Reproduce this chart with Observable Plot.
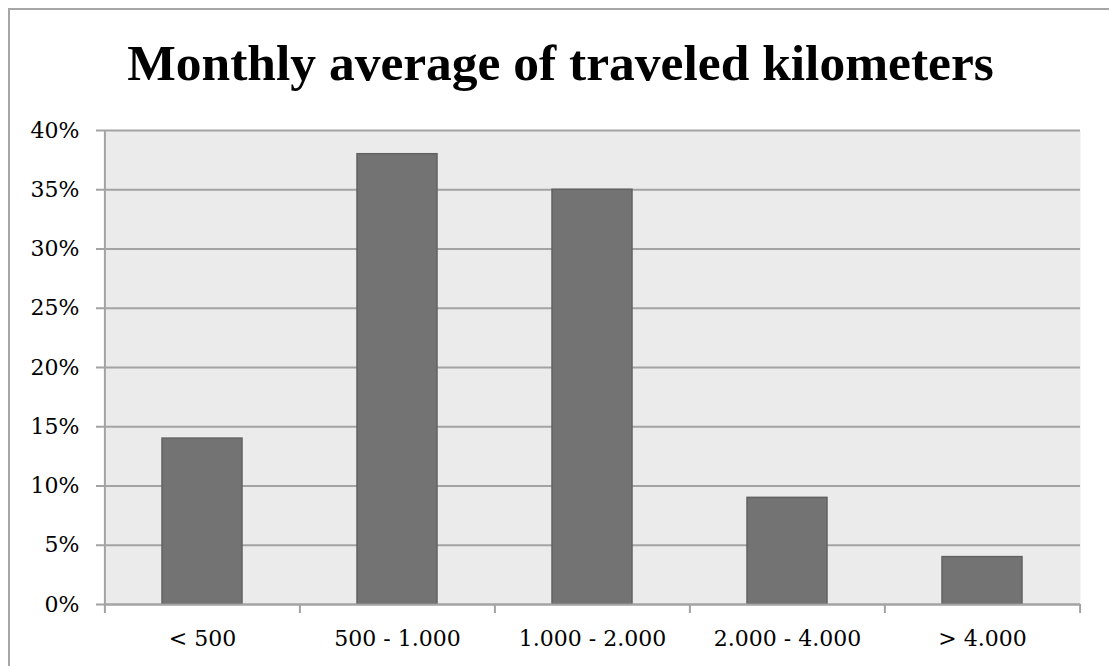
<!DOCTYPE html>
<html>
<head>
<meta charset="utf-8">
<script src="https://cdn.jsdelivr.net/npm/d3@7"></script>
<script src="https://cdn.jsdelivr.net/npm/@observablehq/plot@0.6"></script>
<style>
  html, body { margin: 0; padding: 0; background: #fff; }
  #page { position: relative; width: 1109px; height: 666px; overflow: hidden; }
  #frame {
    position: absolute; left: 8px; top: 8px; width: 1200px; height: 800px;
    border-left: 2px solid #a6a6a6; border-top: 2px solid #a6a6a6;
    pointer-events: none; z-index: 2;
  }
  #title {
    box-sizing: border-box; height: 100px; padding-top: 38px; padding-left: 12px;
    line-height: 50px; text-align: center;
    font-family: "Liberation Serif", serif; font-weight: bold; font-size: 51.5px; color: #000;
  }
  #chart svg { display: block; background: transparent; }
</style>
</head>
<body>
<div id="page">
  <div id="frame"></div>
  <div id="title">Monthly average of traveled kilometers</div>
  <div id="chart"></div>
</div>
<script>
// Share of drivers by monthly average distance (km), in percent
const ranges = ["< 500", "500 - 1.000", "1.000 - 2.000", "2.000 - 4.000", "> 4.000"];
const shares = [14, 38, 35, 9, 4];
const yTicks = [0, 5, 10, 15, 20, 25, 30, 35, 40];

const data = ranges.map((r, i) => ({range: r, share: shares[i]}));

const W = 1109, H = 566;
const mL = 104, mR = 29, mT = 30, mB = 62;
const halfStep = (W - mL - mR) / ranges.length / 2;
const axisGray = "#a3a3a3";
const labelFont = "'DejaVu Serif', serif";
const labelSize = 22;

const chart = Plot.plot({
  width: W,
  height: H,
  marginLeft: mL,
  marginRight: mR,
  marginTop: mT,
  marginBottom: mB,
  style: {fontFamily: labelFont, fontSize: labelSize + "px", color: "#000", background: "transparent"},
  x: {domain: ranges, paddingInner: 0.59, paddingOuter: 0.295, label: null},
  y: {domain: [0, 40], ticks: yTicks, label: null},
  marks: [
    Plot.frame({fill: "#ebebeb", stroke: null}),
    Plot.gridY(yTicks, {stroke: axisGray, strokeOpacity: 1, strokeWidth: 2}),
    Plot.axisY(yTicks, {tickSize: 8, tickPadding: 17, stroke: axisGray, strokeWidth: 2,
      tickFormat: d => d + "%", fill: "#000", fontSize: labelSize, fontFamily: labelFont}),
    Plot.barY(data, {x: "range", y: "share", fill: "#737373", stroke: "#626262", strokeWidth: 1.5}),
    // category boundary ticks below the baseline
    Plot.ruleX(ranges, {x: d => d, y1: 0, y2: 0, dx: -halfStep, insetBottom: -9, stroke: axisGray, strokeWidth: 2}),
    Plot.ruleX([ranges[ranges.length - 1]], {x: d => d, y1: 0, y2: 0, dx: halfStep, insetBottom: -9, stroke: axisGray, strokeWidth: 2}),
    // value axis line
    Plot.ruleX([ranges[0]], {x: d => d, y1: 0, y2: 40, dx: -halfStep, stroke: axisGray, strokeWidth: 2}),
    Plot.ruleY([0], {stroke: axisGray, strokeWidth: 2}),
    Plot.axisX({tickSize: 0, tickPadding: 26, fill: "#000", fontSize: labelSize, fontFamily: labelFont})
  ]
});
document.getElementById("chart").appendChild(chart);
</script>
</body>
</html>
